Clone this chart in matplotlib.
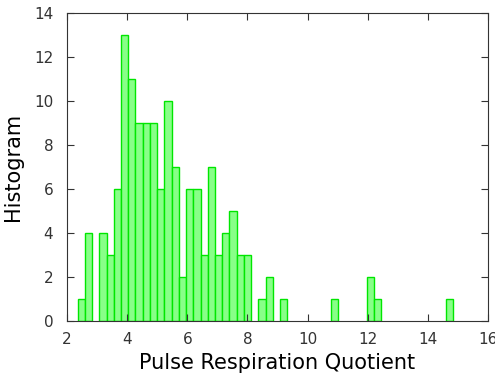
import numpy as np
import matplotlib
matplotlib.use('Agg')
import matplotlib.pyplot as plt

# histogram counts, 52 equal bins from x_min to x_max
x_min = 2.353
x_max = 14.85
counts = [1, 4, 0, 4, 3, 6, 13, 11, 9, 9, 9, 6, 10, 7, 2, 6, 6, 3, 7, 3,
          4, 5, 3, 3, 0, 1, 2, 0, 1, 0, 0, 0, 0, 0, 0, 1, 0, 0, 0, 0,
          2, 1, 0, 0, 0, 0, 0, 0, 0, 0, 0, 1]
xticks = [2, 4, 6, 8, 10, 12, 14, 16]
yticks = [0, 2, 4, 6, 8, 10, 12, 14]

edges = np.linspace(x_min, x_max, len(counts) + 1)
centers = 0.5 * (edges[:-1] + edges[1:])
width = edges[1] - edges[0]

fig = plt.figure(figsize=(4.95, 3.81), dpi=100)
ax = fig.add_axes([0.1354, 0.1575, 0.8506, 0.8085])

mask = np.array(counts) > 0
ax.bar(centers[mask], np.array(counts)[mask], width=width,
       facecolor='#88ff88', edgecolor='#00e600', linewidth=1.0)

ax.set_xlim(2, 16)
ax.set_ylim(0, 14)
ax.set_xticks(xticks)
ax.set_yticks(yticks)
ax.tick_params(direction='in', top=True, right=True, length=5,
               labelsize=11, labelcolor='#333333', color='#333333')
ax.tick_params(axis='x', pad=8)
ax.tick_params(axis='y', pad=10)
for s in ax.spines.values():
    s.set_color('#333333')
ax.set_xlabel('Pulse Respiration Quotient', fontsize=15, labelpad=4)
ax.set_ylabel('Histogram', fontsize=15, labelpad=8)

fig.savefig('out.png', dpi=100)
